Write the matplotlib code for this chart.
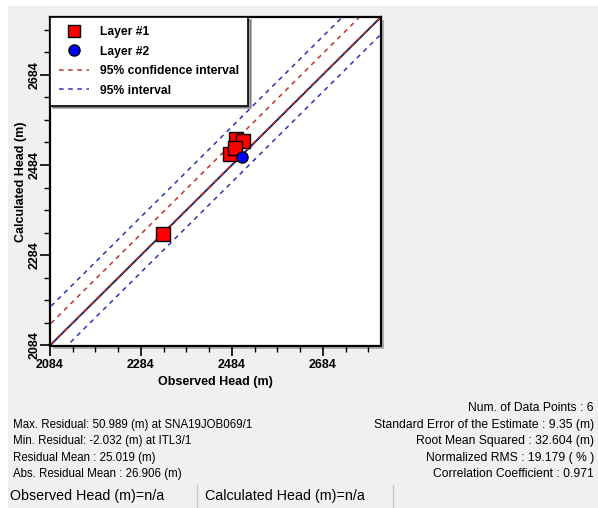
import matplotlib.pyplot as plt
from matplotlib.patches import Rectangle
from matplotlib.lines import Line2D
import numpy as np

# observed / calculated heads (m)
layer1_obs = [2332, 2492, 2508, 2480, 2490]
layer1_calc = [2330, 2541, 2537, 2508, 2522]
layer2_obs = [2506]
layer2_calc = [2502]

# interval offsets from the 1:1 line (m)
conf_offsets = [47, 1]
pred_offsets = [85, -38]

axis_min, axis_max = 2084, 2812
major_ticks = [2084, 2284, 2484, 2684]

stats_left = [
    "Max. Residual: 50.989 (m) at SNA19JOB069/1",
    "Min. Residual: -2.032 (m) at ITL3/1",
    "Residual Mean : 25.019 (m)",
    "Abs. Residual Mean : 26.906 (m)",
]
stats_right = [
    "Num. of Data Points : 6",
    "Standard Error of the Estimate : 9.35 (m)",
    "Root Mean Squared : 32.604 (m)",
    "Normalized RMS : 19.179 ( % )",
    "Correlation Coefficient : 0.971",
]

plt.rcParams['font.family'] = ['Liberation Sans', 'DejaVu Sans']

W, H = 598, 508
fig = plt.figure(figsize=(W / 100, H / 100), dpi=100, facecolor='white')

# gray panel background
fig.patches.append(Rectangle((8 / W, 0), 1 - 8 / W, 1 - 6 / H, transform=fig.transFigure,
                             facecolor='#f0f0f0', edgecolor='none', zorder=-10))

ax_l, ax_r, ax_t, ax_b = 50, 381, 17, 345.5
pos = [ax_l / W, 1 - ax_b / H, (ax_r - ax_l) / W, (ax_b - ax_t) / H]

# shadow behind the plot frame
fig.patches.append(Rectangle((pos[0] + 3 / W, pos[1] - 3 / H), pos[2], pos[3],
                             transform=fig.transFigure, facecolor='#b0b0b0',
                             edgecolor='none', zorder=-5))

ax = fig.add_axes(pos)
ax.set_facecolor('white')
ax.set_xlim(axis_min, axis_max)
ax.set_ylim(axis_min, axis_max)

xx = np.array([axis_min - 200, axis_max + 200])
ax.plot(xx, xx, color='black', lw=1.3, zorder=2)
ax.plot(xx, xx + 0.5, color='#4040c0', lw=0.6, zorder=2)
for c in conf_offsets:
    ax.plot(xx, xx + c, color='#c03030', lw=1.1, ls=(0, (3, 3)), zorder=2)
for c in pred_offsets:
    ax.plot(xx, xx + c, color='#3030b0', lw=1.1, ls=(0, (3, 3)), zorder=2)

ax.plot(layer1_obs, layer1_calc, ls='none', marker='s', ms=10, mfc='#ff0000',
        mec='black', mew=1.0, zorder=4)
ax.plot(layer2_obs, layer2_calc, ls='none', marker='o', ms=8, mfc='#0000ff',
        mec='black', mew=1.0, zorder=5)

ax.set_xticks(major_ticks)
ax.set_yticks(major_ticks)
minor = np.arange(axis_min, axis_max, 50)
ax.set_xticks(minor, minor=True)
ax.set_yticks(minor, minor=True)
ax.tick_params(which='major', length=7, width=1.2, direction='out', labelsize=9)
ax.tick_params(axis='x', which='major', pad=3)
ax.tick_params(axis='y', which='major', pad=0)
ax.tick_params(which='minor', length=4, width=1.0, direction='out')
for lab in ax.get_xticklabels() + ax.get_yticklabels():
    lab.set_fontweight('bold')
for lab in ax.get_yticklabels():
    lab.set_rotation(90)
    lab.set_va('center')
for s in ax.spines.values():
    s.set_linewidth(1.6)

ax.set_xlabel("Observed Head (m)", fontsize=9, fontweight='bold', labelpad=3)
ax.set_ylabel("Calculated Head (m)", fontsize=9, fontweight='bold', labelpad=1)

handles = [
    Line2D([], [], ls='none', marker='s', ms=8, mfc='#ff0000', mec='black'),
    Line2D([], [], ls='none', marker='o', ms=8, mfc='#0000ff', mec='black'),
    Line2D([], [], color='#c03030', lw=1.1, ls=(0, (3, 3))),
    Line2D([], [], color='#3030b0', lw=1.1, ls=(0, (3, 3))),
]
labels = ["Layer #1", "Layer #2", "95% confidence interval", "95% interval"]
leg = ax.legend(handles, labels, loc='upper left', borderaxespad=0, fancybox=False,
                shadow=True, edgecolor='black', framealpha=1,
                prop={'weight': 'bold', 'size': 8.7}, handlelength=2.5,
                handletextpad=0.85, labelspacing=0.62, borderpad=0.75)
leg.get_frame().set_linewidth(1.2)

# statistics block
ys = [408, 425, 441, 458, 474]
for i, t in enumerate(stats_left):
    fig.text(13 / W, 1 - ys[i + 1] / H, t, fontsize=8.3, va='center', ha='left')
for i, t in enumerate(stats_right):
    fig.text(594 / W, 1 - ys[i] / H, t, fontsize=8.7, va='center', ha='right')

# bottom status row
fig.text(10 / W, 1 - 496 / H, "Observed Head (m)=n/a", fontsize=10.3, va='center')
fig.text(205 / W, 1 - 496 / H, "Calculated Head (m)=n/a", fontsize=10.3, va='center')
for xs in [197, 393]:
    fig.add_artist(Line2D([xs / W, xs / W], [0, 1 - 485 / H], color='#c8c8c8', lw=1))

fig.savefig("out.png", dpi=100, facecolor=fig.get_facecolor())
